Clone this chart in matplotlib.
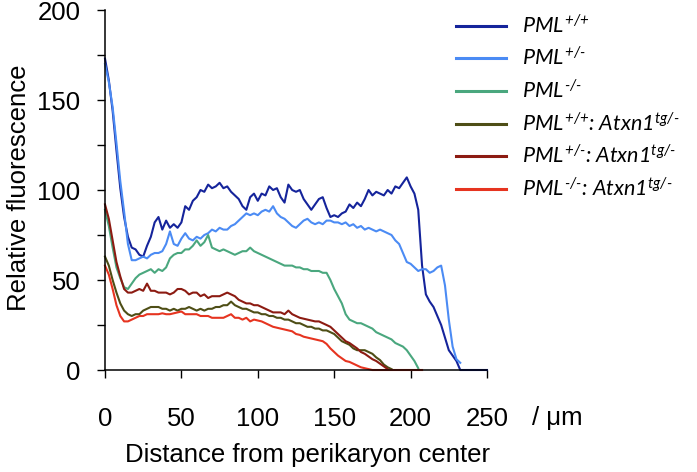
import numpy as np
import matplotlib
matplotlib.use('Agg')
import matplotlib.pyplot as plt
from matplotlib.ticker import MultipleLocator

# fluorescence profiles, read every 2.5 um from 0
dist_step = 2.5

pml_wt = [173, 161, 144, 122, 101, 85, 74, 68, 67, 64,
          63, 69, 74, 82, 85, 78, 83, 79, 81, 79,
          82, 91, 89, 94, 96, 100, 99, 103, 101, 102,
          104, 101, 102, 99, 97, 95, 91, 89, 96, 98,
          94, 98, 97, 102, 100, 101, 96, 93, 103, 100,
          99, 100, 95, 92, 89, 92, 95, 96, 90, 85,
          86, 85, 87, 88, 92, 90, 93, 91, 95, 100,
          97, 99, 98, 97, 100, 98, 102, 101, 104, 107,
          102, 98, 89, 58, 42, 38, 35, 30, 25, 18,
          11, 8, 5, 0, 0, 0, 0, 0, 0, 0,
          0]
pml_het = [170, 160, 146, 126, 105, 88, 70, 61, 61, 62,
           63, 62, 64, 65, 65, 66, 70, 77, 70, 69,
           73, 76, 73, 72, 74, 73, 75, 76, 78, 77,
           79, 78, 78, 80, 81, 83, 85, 87, 86, 87,
           86, 88, 89, 88, 91, 87, 85, 84, 82, 80,
           79, 81, 83, 84, 82, 81, 82, 81, 83, 83,
           82, 82, 81, 82, 80, 81, 79, 80, 78, 79,
           78, 77, 78, 77, 76, 75, 72, 70, 65, 60,
           59, 57, 55, 56, 56, 54, 55, 57, 58, 47,
           28, 13, 6, 4]
pml_ko = [89, 80, 68, 57, 51, 46, 45, 48, 51, 53,
          54, 55, 56, 54, 56, 55, 57, 62, 64, 65,
          65, 67, 67, 69, 72, 69, 71, 75, 68, 67,
          66, 67, 66, 65, 64, 65, 66, 66, 68, 66,
          65, 64, 63, 62, 61, 60, 59, 58, 58, 58,
          57, 57, 56, 56, 55, 55, 55, 54, 54, 50,
          45, 41, 37, 31, 28, 27, 26, 26, 25, 24,
          23, 21, 20, 19, 18, 17, 15, 14, 13, 11,
          8, 5, 1]
pml_wt_atxn = [63, 58, 50, 43, 37, 33, 31, 30, 31, 31,
               33, 34, 35, 35, 35, 34, 34, 33, 34, 33,
               34, 34, 35, 34, 33, 34, 33, 34, 34, 35,
               35, 36, 36, 38, 36, 35, 34, 34, 33, 32,
               32, 31, 31, 30, 30, 29, 29, 28, 28, 27,
               26, 26, 25, 24, 24, 23, 23, 22, 22, 21,
               20, 18, 16, 15, 14, 12, 11, 11, 11, 10,
               9, 7, 5.5, 3, 1.5, 0.5]
pml_het_atxn = [92, 84, 72, 60, 52, 45, 43, 43, 44, 45,
                44, 48, 44, 44, 43, 43, 43, 42, 43, 45,
                45, 44, 42, 43, 43, 41, 42, 40, 41, 41,
                41, 42, 43, 42, 41, 39, 38, 37, 37, 36,
                36, 35, 34, 33, 32, 32, 32, 31, 33, 31,
                30, 29, 28.5, 28, 27.5, 27, 27, 26, 25, 24,
                22, 20, 18, 16, 15, 13.5, 12, 10, 9, 7.5,
                6, 5, 3.5, 2, 0.5]
pml_ko_atxn = [58, 53, 45, 36, 30, 27, 27, 28, 29, 30,
               30, 31, 31, 31, 31, 31.5, 31, 31, 31.5, 32,
               32.5, 31, 31, 31, 31, 30, 30, 30, 29, 29,
               29, 29, 30, 31, 29, 29, 28, 29, 27, 28,
               27.5, 27, 26, 25, 24, 23.5, 23, 22.5, 22, 21.5,
               20, 19.5, 18.5, 18, 17.5, 17, 16.5, 16, 14.5, 12,
               10, 8, 6.5, 5, 4.5, 3.5, 2.5, 1.5, 1, 0.5,
               0, 0, 0, 0, 0, 0, 0, 0, 0, 0,
               0, 0, 0, 0]

labels = [r'$PML^{\text{+/+}}$',
          r'$PML^{\text{+/-}}$',
          r'$PML^{\text{-/-}}$',
          r'$PML^{\text{+/+}}$: $Atxn1^{\text{tg/-}}$',
          r'$PML^{\text{+/-}}$: $Atxn1^{\text{tg/-}}$',
          r'$PML^{\text{-/-}}$: $Atxn1^{\text{tg/-}}$']
colors = ['#15249b', '#4b8bf4', '#4aa77e', '#4e4e16', '#8c1b12', '#e63420']
series = [pml_wt, pml_het, pml_ko, pml_wt_atxn, pml_het_atxn, pml_ko_atxn]

plt.rcParams['font.family'] = ['Liberation Sans', 'DejaVu Sans']
plt.rcParams['mathtext.fontset'] = 'custom'
plt.rcParams['mathtext.rm'] = 'Lato:italic'
plt.rcParams['mathtext.it'] = 'Lato:italic'

fig = plt.figure(figsize=(6.97, 4.72), dpi=100)
ax = fig.add_axes([105 / 697, 102 / 472, 382 / 697, 360 / 472])

for y, c, lab in zip(series, colors, labels):
    x = np.arange(len(y)) * dist_step
    ax.plot(x, y, color=c, lw=1.5, label=lab, clip_on=False)

ax.set_xlim(0, 250)
ax.set_ylim(0, 200)
ax.spines['top'].set_visible(False)
ax.spines['right'].set_visible(False)
for s in ['left', 'bottom']:
    ax.spines[s].set_linewidth(1.1)

ax.xaxis.set_major_locator(MultipleLocator(50))
ax.yaxis.set_major_locator(MultipleLocator(50))
ax.yaxis.set_minor_locator(MultipleLocator(25))
ax.tick_params(axis='both', which='both', direction='out', length=5.8, width=1.0, labelsize=18.5)
ax.tick_params(axis='x', pad=21)
ax.tick_params(axis='y', pad=12)

ax.set_xlabel('Distance from perikaryon center', fontsize=18.5)
ax.xaxis.set_label_coords(0.529, -0.203)
ax.set_ylabel('Relative fluorescence', fontsize=18.5)
ax.yaxis.set_label_coords(-0.194, 0.506)

ax.annotate('/ μm', xy=(1, 0), xycoords='axes fraction', xytext=(45, -48),
            textcoords='offset pixels', ha='left', va='center', fontsize=18.5)

handles, labs = ax.get_legend_handles_labels()
leg = fig.legend(handles, labs, loc='upper left', bbox_to_anchor=(456 / 697, 1 - 14 / 472),
                 frameon=False, prop={'family': 'Lato', 'style': 'italic', 'size': 15.5},
                 handlelength=2.3, handletextpad=0.75, labelspacing=0.44,
                 borderpad=0, borderaxespad=0)
for line in leg.get_lines():
    line.set_linewidth(2.2)

fig.savefig('out.png', dpi=100)
